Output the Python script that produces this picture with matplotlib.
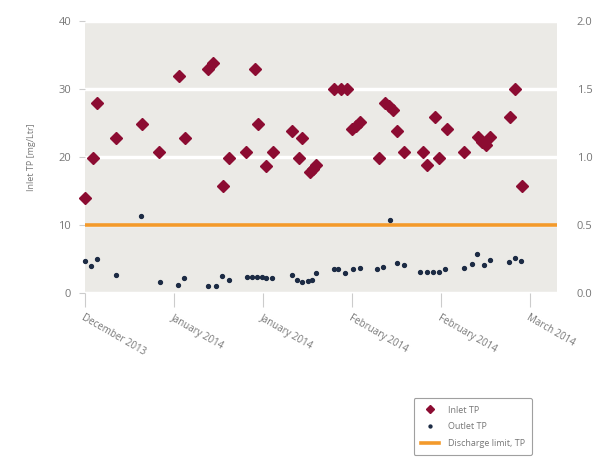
import numpy as np
import matplotlib
matplotlib.use('Agg')
import matplotlib.pyplot as plt

plt.rcParams['font.family'] = ['Open Sans', 'DejaVu Sans']

# sample times, days after 20 Dec 2013
base_date = np.datetime64('2013-12-20T00')
inlet_day = [0.0, 1.3, 2.1, 5.3, 9.6, 12.5, 15.9, 16.9, 20.8, 21.6, 23.2, 24.3,
             27.2, 28.6, 29.2, 30.5, 31.7, 34.9, 36.1, 36.6, 37.9, 38.4, 39.0,
             42.0, 43.2, 44.2, 45.0, 45.7, 46.4, 49.6, 50.6, 51.2, 51.9, 52.6,
             53.7, 56.9, 57.7, 58.9, 59.6, 61.0, 63.8, 66.3, 66.9, 67.6, 68.3,
             71.6, 72.5, 73.6]
inlet_tp = [14.0, 19.8, 28.0, 22.8, 24.8, 20.8, 31.9, 22.8, 32.9, 33.9, 15.8, 19.8,
            20.8, 32.9, 24.8, 18.7, 20.8, 23.8, 19.8, 22.8, 17.8, 18.3, 18.8,
            30.0, 30.0, 30.0, 24.2, 24.6, 25.1, 19.8, 28.0, 27.5, 26.9, 23.9,
            20.8, 20.8, 18.8, 25.9, 19.8, 24.1, 20.8, 23.0, 22.2, 21.8, 23.0,
            25.9, 30.0, 15.8]

outlet_day = [0.0, 1.1, 2.1, 5.3, 9.4, 12.6, 15.7, 16.7, 20.8, 22.1, 23.1, 24.2,
              27.3, 28.1, 28.9, 29.8, 30.6, 31.6, 34.9, 35.7, 36.6, 37.6, 38.2,
              39.0, 41.9, 42.7, 43.8, 45.1, 46.3, 49.3, 50.3, 51.4, 52.6, 53.7,
              56.5, 57.6, 58.7, 59.7, 60.7, 63.8, 65.2, 66.0, 67.3, 68.3, 71.4,
              72.4, 73.5]
outlet_tp = [0.238, 0.20, 0.248, 0.132, 0.568, 0.083, 0.059, 0.108, 0.051, 0.054,
             0.127, 0.096, 0.12, 0.12, 0.12, 0.12, 0.108, 0.108, 0.132, 0.096,
             0.083, 0.088, 0.096, 0.145, 0.18, 0.174, 0.15, 0.174, 0.186, 0.18,
             0.19, 0.537, 0.223, 0.206, 0.157, 0.157, 0.152, 0.157, 0.18, 0.186,
             0.211, 0.287, 0.206, 0.243, 0.226, 0.255, 0.238]

discharge_limit = 0.5
tick_labels = ['December 2013', 'January 2014', 'January 2014',
               'February 2014', 'February 2014', 'March 2014']


def to_dates(days):
    hours = np.round(np.array(days) * 24).astype('timedelta64[h]')
    return base_date + hours


inlet_dates = to_dates(inlet_day)
outlet_dates = to_dates(outlet_day)
tick_dates = to_dates(np.arange(len(tick_labels)) * 15)

grey = '#777777'
fig = plt.figure(figsize=(6.07, 4.58), dpi=100)
ax1 = fig.add_axes([0.14, 0.36, 0.778, 0.594])
ax1.set_facecolor('#ebeae6')
ax2 = ax1.twinx()

ax1.set_ylim(0, 40)
ax2.set_ylim(0, 2.0)
ax1.set_xlim(tick_dates[0], to_dates([79.6])[0])

ax1.set_yticks([0, 10, 20, 30, 40])
ax2.set_yticks([0.0, 0.5, 1.0, 1.5, 2.0])
ax2.set_yticklabels(['0.0', '0.5', '1.0', '1.5', '2.0'])
ax1.set_axisbelow(True)
ax1.yaxis.grid(True, color='white', linewidth=2.5)

ax1.set_xticks(tick_dates)
ax1.set_xticklabels(tick_labels, rotation=-30, ha='left', va='top',
                    rotation_mode='anchor')

for s in ax1.spines.values():
    s.set_visible(False)
for s in ax2.spines.values():
    s.set_visible(False)

ax1.tick_params(axis='x', length=10, width=0.8, color='#cccccc', labelsize=7,
                labelcolor=grey, pad=4)
ax1.tick_params(axis='y', length=4, width=0.8, color='#cccccc', labelsize=8,
                labelcolor=grey, pad=6)
ax2.tick_params(axis='y', length=0, labelsize=8, labelcolor=grey, pad=14)

ax1.set_ylabel('Inlet TP [mg/Ltr]', fontsize=6.5, color=grey, labelpad=16)

l1, = ax1.plot(inlet_dates, inlet_tp, linestyle='none', marker='D', ms=6,
               color='#8c0c32', label='Inlet TP', clip_on=False)
l3 = ax2.axhline(discharge_limit, color='#f39a2b', linewidth=2.6,
                 label='Discharge limit, TP')
l2, = ax2.plot(outlet_dates, outlet_tp, linestyle='none', marker='o', ms=2.8,
               color='#1c2b44', label='Outlet TP', clip_on=False)

leg = fig.legend(handles=[l1, l2, l3], loc='upper left',
                 bbox_to_anchor=(0.674, 0.14), fontsize=6.5, frameon=True,
                 fancybox=True, edgecolor='#888888', handlelength=2.0,
                 borderpad=0.8, labelspacing=0.85, markerscale=0.75,
                 handletextpad=1.0)
leg.get_frame().set_linewidth(0.8)
for t in leg.get_texts():
    t.set_color(grey)

plt.savefig('out.png', dpi=100)
